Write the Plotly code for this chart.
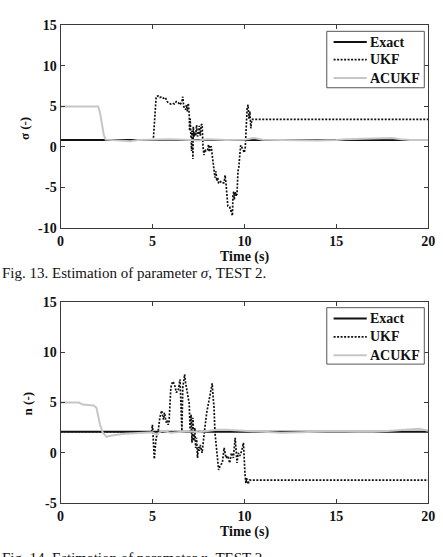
import plotly.graph_objects as go

W, H = 443, 557

# ---------------- Data: sigma (Fig. 13) ----------------
t_exact = [0, 20]
sig_exact = [0.85, 0.85]

t_sig_ukf = [0, 5.0, 5.05, 5.1, 5.15, 5.2, 5.3, 5.4, 5.5, 5.6, 5.7, 5.8, 5.9, 6.0, 6.1, 6.2, 6.3, 6.4,
             6.5, 6.6, 6.65, 6.7, 6.8, 6.85, 6.9, 6.95, 7.0, 7.02, 7.05, 7.08, 7.1, 7.13, 7.15, 7.18,
             7.2, 7.22, 7.25, 7.3, 7.35, 7.4, 7.45, 7.5, 7.55, 7.6, 7.65, 7.7, 7.72, 7.75, 7.8, 7.85,
             7.9, 8.0, 8.05, 8.1, 8.15, 8.2, 8.25, 8.3, 8.35, 8.4, 8.45, 8.5, 8.55, 8.6, 8.7, 8.8, 8.9,
             8.95, 9.0, 9.05, 9.1, 9.2, 9.25, 9.3, 9.35, 9.38, 9.42, 9.45, 9.5, 9.55, 9.6, 9.65, 9.7,
             9.75, 9.8, 9.85, 9.9, 10.0, 10.05, 10.1, 10.15, 10.2, 10.25, 10.3, 10.35, 10.4, 20]
sig_ukf = [0.85, 0.85, 1.0, 3.0, 5.5, 6.2, 6.3, 6.1, 6.2, 6.0, 6.1, 5.6, 5.4, 5.3, 5.4, 5.3, 5.6, 5.5,
           5.2, 5.6, 6.2, 5.0, 4.6, 5.2, 4.4, 5.4, 4.0, 2.0, 3.5, 1.0, 2.5, -0.5, 2.0, 1.5,
           -1.5, 2.5, 1.2, 1.8, 1.4, 2.7, 1.3, 1.5, 2.6, 1.4, 2.7, 2.8, 1.2, 0.0, -1.0, -0.3,
           -0.5, -0.4, 0.3, -0.6, 0.0, 0.0, -1.0, -2.0, -2.5, -3.8, -3.0, -4.2, -3.8, -4.5, -4.3, -4.5, -4.4,
           -3.5, -4.5, -5.5, -7.3, -7.4, -7.8, -8.2, -8.5, -6.0, -5.5, -6.5, -5.6, -6.0, -5.8, -3.0, -2.5,
           -1.0, 0.2, 0.0, -0.2, -0.7, 0.0, 4.0, 4.8, 5.2, 3.5, 4.4, 2.3, 3.4, 3.4]

t_sig_ac = [0, 2.05, 2.15, 2.25, 2.35, 2.45, 3.0, 3.5, 3.8, 4.2, 5.0, 6.0, 7.0, 7.5, 8.0, 8.5, 9.0,
            10.0, 10.5, 11.0, 12.0, 13.0, 14.0, 15.0, 15.5, 16.5, 17.5, 18.0, 18.5, 19.0, 20]
sig_ac = [5.0, 5.0, 4.2, 2.8, 1.5, 0.9, 0.85, 0.8, 0.7, 0.85, 0.9, 0.95, 0.85, 0.8, 0.95, 0.9, 0.85,
          0.9, 1.1, 0.9, 0.85, 0.8, 0.8, 0.85, 0.95, 1.0, 1.05, 1.1, 0.95, 0.85, 0.85]

# ---------------- Data: n (Fig. 14) ----------------
n_exact = [2.1, 2.1]

t_n_ukf = [0, 4.95, 5.0, 5.05, 5.1, 5.15, 5.2, 5.3, 5.4, 5.5, 5.6, 5.65, 5.75, 5.8, 5.85, 5.9, 6.0,
           6.1, 6.2, 6.3, 6.4, 6.5, 6.55, 6.6, 6.65, 6.7, 6.75, 6.8, 6.9, 7.0, 7.05, 7.1, 7.15, 7.2,
           7.25, 7.3, 7.35, 7.4, 7.45, 7.5, 7.55, 7.6, 7.7, 7.8, 7.85, 7.95, 8.05, 8.15, 8.25, 8.3,
           8.35, 8.4, 8.45, 8.5, 8.6, 8.7, 8.8, 8.9, 8.95, 9.0, 9.1, 9.2, 9.3, 9.4, 9.5, 9.55, 9.6,
           9.66, 9.75, 9.85, 9.95, 10.03, 10.08, 10.12, 10.2, 10.27, 10.35, 20]
n_ukf = [2.1, 2.1, 2.8, 1.0, -0.6, 0.5, 1.5, 2.0, 3.5, 4.2, 3.3, 4.0, 3.0, 3.2, 2.8, 3.0, 6.5,
         7.1, 6.8, 6.0, 6.2, 7.3, 5.0, 2.2, 6.5, 7.5, 7.8, 7.0, 6.0, 4.9, 2.0, 3.8, 1.0, 3.5,
         1.2, 2.5, 0.5, 1.5, -0.5, 0.6, 0.2, 0.8, 0.0, 2.0, 2.5, 4.0, 5.0, 6.0, 6.9, 5.5,
         4.5, 2.0, 1.0, 0.0, -1.7, -1.2, -1.0, 0.5, -0.2, -0.5, -0.3, -1.0, 0.0, -0.5, 1.5, -0.3, -1.0,
         0.0, -0.3, 0.2, 1.0, -2.0, -3.0, -2.5, -3.1, -2.7, -2.7, -2.7]

t_n_ac = [0, 1.0, 1.2, 1.8, 1.95, 2.05, 2.15, 2.3, 2.5, 2.7, 3.0, 3.5, 4.0, 4.5, 5.0, 5.2, 5.5,
          6.0, 6.5, 7.0, 7.5, 8.0, 8.5, 9.0, 10.0, 11.0, 12.0, 13.0, 14.0, 15.0, 16.0, 17.0,
          18.0, 18.5, 19.0, 19.5, 20]
n_ac = [5.0, 5.0, 4.8, 4.7, 4.5, 3.6, 2.8, 2.0, 1.6, 1.7, 1.8, 1.9, 1.95, 2.0, 2.05, 1.8, 2.2,
        2.0, 2.1, 2.15, 2.05, 2.2, 2.3, 2.3, 2.2, 2.1, 2.0, 2.05, 2.1, 2.15, 2.1, 2.1,
        2.2, 2.25, 2.3, 2.4, 2.2]

series_names = ["Exact", "UKF", "ACUKF"]
x_ticks = [0, 5, 10, 15, 20]
sig_ticks = [-10, -5, 0, 5, 10, 15]
n_ticks = [-5, 0, 5, 10, 15]

# ---------------- Figure ----------------
fig = go.Figure()
FONT = "Liberation Serif"
BLACK = "#111111"
GRAY = "#c6c6c6"
FRAME = "#3a3a3a"
styles = [dict(color=BLACK, width=2),
          dict(color=BLACK, width=1.7, dash="2px,1.5px"),
          dict(color=GRAY, width=2)]

def add_set(xs, ys, xa, ya):
    for name, x, y, st in zip(series_names, xs, ys, styles):
        fig.add_trace(go.Scatter(x=x, y=y, mode="lines", name=name, line=st,
                                 xaxis=xa, yaxis=ya, showlegend=False))

add_set([t_exact, t_sig_ukf, t_sig_ac], [sig_exact, sig_ukf, sig_ac], "x", "y")
add_set([t_exact, t_n_ukf, t_n_ac], [n_exact, n_ukf, n_ac], "x2", "y2")

x0, x1 = 58 / W, 435 / W
top_dom = [1 - 227 / H, 1 - 19 / H]
bot_dom = [1 - 510 / H, 1 - 303 / H]

def bold(vals):
    return ["<b>%d</b>" % v for v in vals]

axis_common = dict(showgrid=False, zeroline=False, showline=True, linecolor=FRAME, linewidth=1,
                   mirror="allticks", ticks="inside", ticklen=4, tickcolor=FRAME,
                   tickfont=dict(family=FONT, size=14, color=BLACK))

fig.update_layout(
    width=W, height=H, margin=dict(l=0, r=0, t=0, b=0),
    paper_bgcolor="white", plot_bgcolor="white", showlegend=False,
    xaxis=dict(domain=[x0, x1], range=[0, 20], tickvals=x_ticks, ticktext=bold(x_ticks),
               anchor="y", **axis_common),
    yaxis=dict(domain=top_dom, range=[-10, 15], tickvals=sig_ticks, ticktext=bold(sig_ticks),
               anchor="x", **axis_common),
    xaxis2=dict(domain=[x0, x1], range=[0, 20], tickvals=x_ticks, ticktext=bold(x_ticks),
                anchor="y2", **axis_common),
    yaxis2=dict(domain=bot_dom, range=[-5, 15], tickvals=n_ticks, ticktext=bold(n_ticks),
                anchor="x2", **axis_common),
)

# ---------------- Legends (box, samples, labels) ----------------
def legend_box(top, rows):
    fig.add_shape(type="rect", xref="paper", yref="paper",
                  x0=331 / W, x1=431 / W, y0=1 - (top + 58) / H, y1=1 - top / H,
                  line=dict(color="#555555", width=1), fillcolor="white", layer="above")
    for name, st, yy in zip(series_names, styles, rows):
        fig.add_shape(type="line", xref="paper", yref="paper",
                      x0=338 / W, x1=372 / W, y0=1 - yy / H, y1=1 - yy / H,
                      line=st, layer="above")
        fig.add_annotation(x=373 / W, y=1 - yy / H, xref="paper", yref="paper",
                           text="<b>%s</b>" % name, showarrow=False, xanchor="left", yanchor="middle",
                           font=dict(family=FONT, size=14, color=BLACK))

legend_box(25, [36, 54, 73])
legend_box(309, [320, 339, 358])

fig.add_annotation(x=(58 + 435) / 2 / W, y=1 - 257 / H, xref="paper", yref="paper",
                   text="<b>Time (s)</b>", showarrow=False, font=dict(family=FONT, size=14, color=BLACK),
                   xanchor="center", yanchor="middle")
fig.add_annotation(x=(58 + 435) / 2 / W, y=1 - 540 / H, xref="paper", yref="paper",
                   text="<b>Time (s)</b>", showarrow=False, font=dict(family=FONT, size=14, color=BLACK),
                   xanchor="center", yanchor="middle")
fig.add_annotation(x=21 / W, y=1 - 125 / H, xref="paper", yref="paper", textangle=-90,
                   text="<b>σ (-)</b>", showarrow=False, font=dict(family=FONT, size=13, color=BLACK),
                   xanchor="center", yanchor="middle")
fig.add_annotation(x=24 / W, y=1 - 408 / H, xref="paper", yref="paper", textangle=-90,
                   text="<b>n (-)</b>", showarrow=False, font=dict(family=FONT, size=13, color=BLACK),
                   xanchor="center", yanchor="middle")
fig.add_annotation(x=-4 / W, y=1 - 273 / H, xref="paper", yref="paper",
                   text="Fig. 13. Estimation of parameter <i>σ</i>, TEST 2.", showarrow=False,
                   font=dict(family=FONT, size=15, color=BLACK), xanchor="left", yanchor="middle")
fig.add_annotation(x=-4 / W, y=1 - 566 / H, xref="paper", yref="paper",
                   text="Fig. 14. Estimation of parameter <i>n</i>, TEST 2.", showarrow=False,
                   font=dict(family=FONT, size=15, color=BLACK), xanchor="left", yanchor="middle")

fig.write_html("out.html")
